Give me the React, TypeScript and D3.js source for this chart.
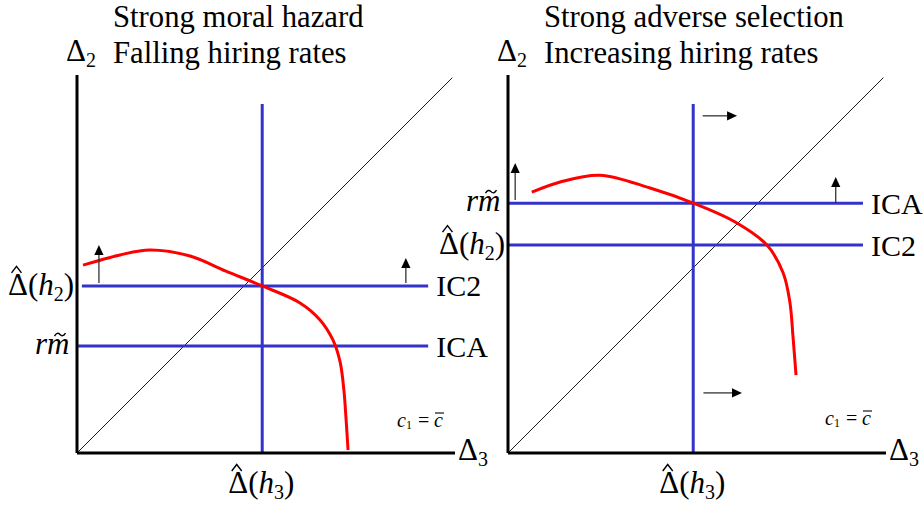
import React from 'react';
import * as d3 from 'd3';

// Schematic values, both axes on a 0..100 scale
const leftCurve: [number, number][] = [
  [1.6, 49.7], [11.4, 52.4], [19.3, 53.7], [29.9, 52.1], [39.4, 48.1],
  [49, 44.2], [59, 39.7], [64.3, 35.2], [67.7, 29.9], [69.6, 24.1],
  [70.6, 16.7], [71.2, 8.7], [71.7, 0.8],
];
const rightCurve: [number, number][] = [
  [6.3, 69.0], [13.8, 71.7], [24.3, 73.5], [37.6, 70.1], [49, 66.1],
  [60.1, 61.1], [68.5, 55.0], [72.8, 47.6], [74.6, 39.7], [75.4, 30.7],
  [76.2, 20.6],
];

const cutoff = 49;          // vertical line, Δ̂(h3)
const cutoffTop = 92.3;

const leftLevels = [
  { id: 'IC2', kind: 'hat', value: 44.2, from: 1.3 },
  { id: 'ICA', kind: 'rm', value: 28.3, from: 0.3 },
];
const rightLevels = [
  { id: 'ICA', kind: 'rm', value: 66.1, from: 0 },
  { id: 'IC2', kind: 'hat', value: 55.0, from: 0 },
];
const leftLineEnd = 92.9;
const rightLineEnd = 93.9;

// arrows: [x1, y1, x2 (tip), y2 (tip)]
const leftArrows: number[][] = [[5.8, 45, 5.8, 55], [87, 45, 87, 51.6]];
const rightArrows: number[][] = [
  [1.9, 66.9, 1.9, 76.7], [86.7, 66.1, 86.7, 73],
  [51.5, 89.2, 60.6, 89.2], [51.7, 15.9, 61.9, 15.9],
];

const leftTitle = ['Strong moral hazard', 'Falling hiring rates'];
const rightTitle = ['Strong adverse selection', 'Increasing hiring rates'];

const FONT = '"Liberation Serif", "Times New Roman", serif';
const BLUE = '#3333cc';
const RED = '#ff0000';

const Arrow = ({ a, sx, sy }: any) => {
  const x1 = sx(a[0]), y1 = sy(a[1]), x2 = sx(a[2]), y2 = sy(a[3]);
  const ang = Math.atan2(y2 - y1, x2 - x1);
  const L = 10, hw = 4.6;
  const bx = x2 - L * Math.cos(ang), by = y2 - L * Math.sin(ang);
  const px = -Math.sin(ang) * hw, py = Math.cos(ang) * hw;
  return (
    <g>
      <line x1={x1} y1={y1} x2={bx} y2={by} stroke="#333" strokeWidth={1.3} />
      <path d={`M${x2},${y2}L${bx + px},${by + py}L${bx - px},${by - py}Z`} fill="#000" />
    </g>
  );
};

const DeltaHat = ({ x, y, sub }: any) => (
  <g>
    <text x={x} y={y} fontSize={31}>
      Δ<tspan>(</tspan><tspan fontStyle="italic">h</tspan>
      <tspan fontSize={20} dy={6}>{sub}</tspan><tspan dy={-6}>)</tspan>
    </text>
    <path d={`M${x + 3.5},${y - 22} L${x + 8.5},${y - 28.5} L${x + 13.5},${y - 22}`}
      fill="none" stroke="#000" strokeWidth={1.4} />
  </g>
);

const RM = ({ x, y }: any) => {
  const cx = x + 25, ty = y - 19;
  return (
    <g>
      <text x={x} y={y} fontSize={31} fontStyle="italic">rm</text>
      <path d={`M${cx - 5.5},${ty + 1.5} Q${cx - 2.8},${ty - 3} ${cx},${ty} T${cx + 5.5},${ty - 1.5}`}
        fill="none" stroke="#000" strokeWidth={1.4} />
    </g>
  );
};

const DeltaSub = ({ x, y, sub }: any) => (
  <text x={x} y={y} fontSize={31}>
    Δ<tspan fontSize={20} dy={6}>{sub}</tspan>
  </text>
);

const CondLabel = ({ x, y }: any) => (
  <g fontSize={20}>
    <text x={x} y={y} fontStyle="italic">c</text>
    <text x={x + 9} y={y + 2} fontSize={12}>1</text>
    <text x={x + 21} y={y}>=</text>
    <text x={x + 37} y={y} fontStyle="italic">c</text>
    <line x1={x + 38} x2={x + 47} y1={y - 14} y2={y - 14} stroke="#000" strokeWidth={1.1} />
  </g>
);

const Panel = ({ ox, curve, levels, lineEnd, arrows, title, condX, condY }: any) => {
  const size = 378;
  const sx = d3.scaleLinear().domain([0, 100]).range([ox, ox + size]);
  const sy = d3.scaleLinear().domain([0, 100]).range([453, 453 - size]);
  const line = d3.line<[number, number]>()
    .x(d => sx(d[0])).y(d => sy(d[1]))
    .curve(d3.curveCatmullRom.alpha(0.5));

  return (
    <g>
      <text x={ox + 36} y={27} fontSize={30.7}>{title[0]}</text>
      <text x={ox + 36} y={63} fontSize={30.7}>{title[1]}</text>
      <DeltaSub x={ox - 11} y={61} sub="2" />

      {/* diagonal */}
      <line x1={sx(0)} y1={sy(0)} x2={sx(99.3)} y2={sy(99.3)} stroke="#000" strokeWidth={0.9} />

      {/* constraint lines */}
      {levels.map((l: any) => (
        <line key={l.id} x1={sx(l.from)} x2={sx(lineEnd)} y1={sy(l.value)} y2={sy(l.value)}
          stroke={BLUE} strokeWidth={3} />
      ))}
      <line x1={sx(cutoff)} x2={sx(cutoff)} y1={sy(0)} y2={sy(cutoffTop)} stroke={BLUE} strokeWidth={3} />

      <path d={line(curve) || ''} fill="none" stroke={RED} strokeWidth={3} />

      {/* axes */}
      <line x1={sx(0)} x2={sx(0)} y1={sy(0)} y2={sy(100)} stroke="#000" strokeWidth={3} />
      <line x1={sx(0)} x2={sx(100)} y1={sy(0)} y2={sy(0)} stroke="#000" strokeWidth={3} />

      {arrows.map((a: number[], i: number) => <Arrow key={i} a={a} sx={sx} sy={sy} />)}

      {levels.map((l: any) => (
        <g key={'lab' + l.id}>
          <text x={sx(lineEnd) + 8} y={sy(l.value) + 10.5} fontSize={30}>{l.id}</text>
          {l.kind === 'hat'
            ? <DeltaHat x={ox - 69} y={sy(l.value) + 9} sub="2" />
            : <RM x={ox - 42} y={sy(l.value) + 7.5} />}
        </g>
      ))}

      <DeltaHat x={sx(cutoff) - 34} y={493} sub="3" />
      <DeltaSub x={sx(100) + 3} y={460} sub="3" />
      <CondLabel x={condX} y={condY} />
    </g>
  );
};

export default function App() {
  return (
    <svg width={923} height={508} fontFamily={FONT}
      style={{ position: 'absolute', left: 0, top: 0, background: '#fff' }}>
      <Panel ox={77} curve={leftCurve} levels={leftLevels} lineEnd={leftLineEnd}
        arrows={leftArrows} title={leftTitle} condX={397} condY={427} />
      <Panel ox={508} curve={rightCurve} levels={rightLevels} lineEnd={rightLineEnd}
        arrows={rightArrows} title={rightTitle} condX={825} condY={425} />
    </svg>
  );
}
